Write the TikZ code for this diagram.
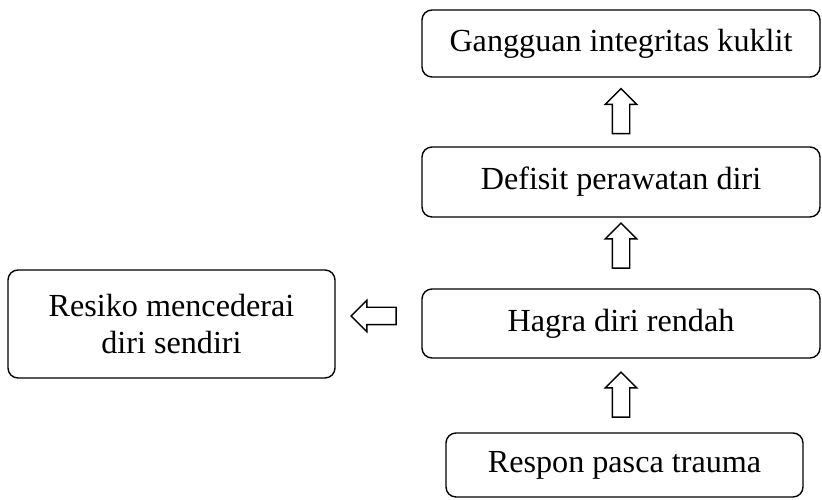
\documentclass[tikz,border=0pt]{standalone}
\usepackage{fontspec}
\setmainfont{Liberation Serif}
\usetikzlibrary{shapes.arrows}

\tikzset{
	kotak/.style={draw, line width=0.8pt, rounded corners=0.2cm, align=center,
		font=\fontsize{18.3}{21}\selectfont},
	panah/.style={draw, line width=0.8pt, single arrow, single arrow head extend=0.14cm,
		single arrow tip angle=90, inner sep=0.16cm, minimum height=0.9cm}
}

\begin{document}
\begin{tikzpicture}
		\useasboundingbox (0,0) rectangle (16.44,10);
		\node[kotak, minimum width=7.96cm, minimum height=1.34cm] (gangguan) at (12.42, 9.13) {Gangguan integritas kuklit};
		\node[kotak, minimum width=7.96cm, minimum height=1.4cm] (defisit) at (12.42, 6.36) {Defisit perawatan diri};
		\node[kotak, minimum width=7.96cm, minimum height=1.38cm] (hagra) at (12.42, 3.53) {Hagra diri rendah};
		\node[kotak, minimum width=7.14cm, minimum height=1.28cm] (respon) at (12.49, 0.70) {Respon pasca trauma};
		\node[kotak, minimum width=6.54cm, minimum height=2.16cm] (resiko) at (3.43, 3.52) {Resiko mencederai\\diri sendiri};
		% panah blok
		\node[panah, rotate=90] (p1) at (12.42, 7.69) {};
		\node[panah, rotate=90] (p2) at (12.42, 5.0) {};
		\node[panah, rotate=90] (p3) at (12.42, 2.02) {};
		\node[panah, rotate=180] (p4) at (7.56, 3.68) {};
	\end{tikzpicture}
\end{document}
